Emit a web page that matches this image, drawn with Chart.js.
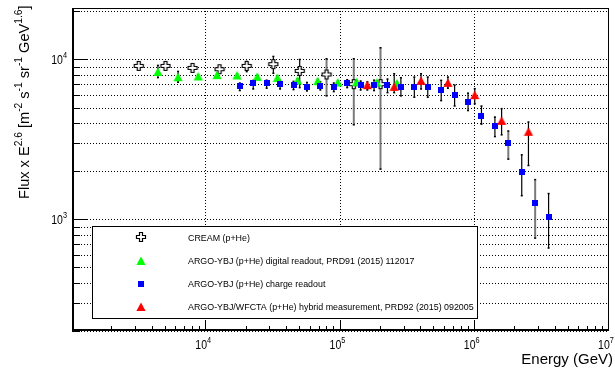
<!DOCTYPE html>
<html><head><meta charset="utf-8">
<script src="https://cdn.jsdelivr.net/npm/chart.js@4/dist/chart.umd.min.js"></script>
<style>html,body{margin:0;padding:0;background:#fff}#wrap{width:615px;height:372px;position:relative}</style>
</head><body><div id="wrap"><canvas id="c"></canvas></div>
<script>
// ---------- data ----------
const creamE    = [3140, 4970, 7900, 12560, 20000, 31620, 49660, 78700, 125600, 198600];
const creamFlux = [9120, 9120, 8860, 8696, 9120, 9346, 8487, 8060, 7009, 7009];
const creamLow  = [8850, 8850, 8600, 8450, 8365, 8176, 6645, 5900, 3890, 2054];
const creamHigh = [9400, 9400, 9120, 8950, 9759, 10486, 10043, 10145, 10145, 11885];

const greenE    = [4365, 6166, 8710, 12020, 16980, 23990, 33880, 47860, 67610, 95500, 131800, 186200, 263000];
const greenFlux = [8365, 7748, 7830, 7980, 7943, 7786, 7674, 7390, 7316, 7178, 7211, 7178, 7079];
const greenLow  = [7674, 7178, 7600, 7750, 7720, 7560, 7450, 7180, 7100, 6970, 7000, 6970, 6870];
const greenHigh = [9213, 8450, 8060, 8210, 8170, 8010, 7900, 7600, 7530, 7390, 7420, 7390, 7290];

const blueE    = [17780, 22390, 28180, 35480, 44670, 56230, 70800, 89130, 112200, 141300, 177800, 223900,
                  281800, 354800, 446700, 562300, 707900, 891300, 1122000, 1413000, 1778000, 2239000, 2818000, 3548000];
const blueFlux = [6839, 7112, 7145, 7039, 6909, 6776, 6839, 6714, 7079, 6879, 6879, 6879,
                  6745, 6776, 6683, 6427, 5957, 5410, 4442, 3846, 2997, 1990, 1265, 1038];
const blueLow  = [6368, 6520, 6590, 6520, 6457, 6339, 6427, 6273, 6645, 6427, 6368, 6180,
                  5900, 5788, 5788, 5510, 5105, 4775, 3926, 3281, 2371, 1400, 760, 659];
const blueHigh = [7145, 7430, 7450, 7430, 7320, 7211, 7286, 7145, 7499, 7350, 7450, 7568,
                  7718, 7786, 7786, 7430, 6937, 6180, 5129, 4375, 3580, 2541, 1778, 1454];

const redE    = [158500, 251200, 398100, 631000, 1000000, 1585000, 2512000];
const redFlux = [6909, 6745, 7350, 7145, 5980, 4132, 3528];
const redLow  = [6427, 6180, 6520, 6590, 5260, 3365, 2163];
const redHigh = [7270, 8176, 8176, 7786, 6590, 4943, 4074];

const seriesLabels = [
  'CREAM (p+He)',
  'ARGO-YBJ (p+He) digital readout, PRD91 (2015) 112017',
  'ARGO-YBJ (p+He) charge readout',
  'ARGO-YBJ/WFCTA (p+He) hybrid measurement, PRD92 (2015) 092005'
];
const xTickValues = [1e4, 1e5, 1e6, 1e7];
const xTickExp    = ['4', '5', '6', '7'];
const yTickValues = [1e3, 1e4];
const yTickExp    = ['3', '4'];
const xTitle = 'Energy (GeV)';
const yTitle = [['Flux x E'], ['2.6', 1], [' [m'], ['-2', 1], [' s'], ['-1', 1], [' sr'], ['-1', 1], [' GeV'], ['1.6', 1], [']']];

// ---------- styles ----------
const FONT = '"Liberation Sans", Arial, Helvetica, sans-serif';
const grayBars = { 0: [7, 8, 9], 2: [20, 22] };

function makeCross() {
  const c = document.createElement('canvas'); c.width = 12; c.height = 12;
  const g = c.getContext('2d'); const cx = 6, cy = 6, h = 4.5, w = 1.5;
  g.beginPath();
  g.moveTo(cx - w, cy - h); g.lineTo(cx + w, cy - h); g.lineTo(cx + w, cy - w); g.lineTo(cx + h, cy - w);
  g.lineTo(cx + h, cy + w); g.lineTo(cx + w, cy + w); g.lineTo(cx + w, cy + h); g.lineTo(cx - w, cy + h);
  g.lineTo(cx - w, cy + w); g.lineTo(cx - h, cy + w); g.lineTo(cx - h, cy - w); g.lineTo(cx - w, cy - w);
  g.closePath(); g.fillStyle = '#fff'; g.fill(); g.strokeStyle = '#000'; g.lineWidth = 1.2; g.stroke();
  return c;
}
function makeTri(color) {
  const c = document.createElement('canvas'); c.width = 10; c.height = 10;
  const g = c.getContext('2d');
  g.beginPath(); g.moveTo(5, 0.5); g.lineTo(9.6, 9); g.lineTo(0.4, 9); g.closePath();
  g.fillStyle = color; g.fill();
  return c;
}
function makeSquare(color) {
  const c = document.createElement('canvas'); c.width = 6; c.height = 6;
  const g = c.getContext('2d'); g.fillStyle = color; g.fillRect(0, 0, 6, 6);
  return c;
}
const markers = [makeCross(), makeTri('#00ff00'), makeSquare('#0000ff'), makeTri('#ff0000')];
const errs = [[creamLow, creamHigh], [greenLow, greenHigh], [blueLow, blueHigh], [redLow, redHigh]];

function pts(xs, ys) { return xs.map((x, i) => ({ x: x, y: ys[i] })); }

function drawRich(ctx, segs, x, y, size, align, vscale) {
  const supSize = size * 0.7, raise = size * 0.45;
  let w = 0;
  const widths = segs.map(s => { ctx.font = (s[1] ? supSize : size) + 'px ' + FONT; const m = ctx.measureText(s[0]).width; w += m; return m; });
  ctx.save(); ctx.translate(x, y); ctx.scale(1, vscale || 1);
  let cx = align === 'right' ? -w : (align === 'center' ? -w / 2 : 0);
  ctx.textBaseline = 'alphabetic'; ctx.textAlign = 'left'; ctx.fillStyle = '#000';
  segs.forEach((s, i) => { ctx.font = (s[1] ? supSize : size) + 'px ' + FONT; ctx.fillText(s[0], cx, s[1] ? -raise : 0); cx += widths[i]; });
  ctx.restore();
  return w;
}

const rootPlugin = {
  id: 'rootStyle',
  beforeDatasetsDraw(chart) {
    const ctx = chart.ctx, a = chart.chartArea, xs = chart.scales.x, ys = chart.scales.y;
    ctx.save();
    // dotted grid
    ctx.strokeStyle = '#000'; ctx.lineWidth = 1; ctx.setLineDash([1, 2]);
    for (let d = 100; d <= 10000; d *= 10) for (let k = 1; k <= 9; k++) {
      const v = d * k; if (v < ys.min || v > ys.max) continue;
      const y = Math.round(ys.getPixelForValue(v)) + 0.5;
      ctx.beginPath(); ctx.moveTo(a.left, y); ctx.lineTo(a.right, y); ctx.stroke();
    }
    [1e4, 1e5, 1e6, 1e7].forEach(v => {
      const x = Math.round(xs.getPixelForValue(v)) - 0.5;
      ctx.beginPath(); ctx.moveTo(x, a.top); ctx.lineTo(x, a.bottom); ctx.stroke();
    });
    ctx.setLineDash([]);
    // error bars
    chart.data.datasets.forEach((ds, di) => {
      const [lo, hi] = errs[di];
      ds.data.forEach((p, i) => {
        const gray = (grayBars[di] || []).indexOf(i) >= 0;
        const x = xs.getPixelForValue(p.x);
        const y1 = ys.getPixelForValue(hi[i]), y2 = ys.getPixelForValue(lo[i]);
        ctx.strokeStyle = gray ? '#7a7a7a' : '#000'; ctx.lineWidth = gray ? 2 : 1.2;
        ctx.beginPath(); ctx.moveTo(x, y1); ctx.lineTo(x, y2); ctx.stroke();
        ctx.fillStyle = '#000';
        ctx.fillRect(x - 1, y1 - 0.5, 2, 1.5); ctx.fillRect(x - 1, y2 - 1, 2, 1.5);
      });
    });
    ctx.restore();
  },
  afterDatasetsDraw(chart) {
    const ctx = chart.ctx, a = chart.chartArea, xs = chart.scales.x, ys = chart.scales.y;
    ctx.save();
    ctx.strokeStyle = '#000'; ctx.lineWidth = 1;
    // y ticks
    for (let d = 100; d <= 10000; d *= 10) for (let k = 1; k <= 9; k++) {
      const v = d * k; if (v < ys.min || v > ys.max) continue;
      const y = Math.round(ys.getPixelForValue(v)) + 0.5;
      const len = k === 1 ? 16 : 8;
      ctx.beginPath(); ctx.moveTo(a.left, y); ctx.lineTo(a.left + len, y); ctx.stroke();
    }
    // x ticks
    for (let d = 1000; d <= 1e6; d *= 10) for (let k = 1; k <= 9; k++) {
      const v = d * k; if (v <= xs.min || v >= xs.max) continue;
      const x = Math.round(xs.getPixelForValue(v)) - 0.5;
      const len = k === 1 ? 11 : 5;
      ctx.beginPath(); ctx.moveTo(x, a.bottom); ctx.lineTo(x, a.bottom - len); ctx.stroke();
    }
    // frame
    ctx.strokeRect(a.left + 0.5, a.top + 0.5, a.right - a.left - 1, a.bottom - a.top - 1);
    ctx.lineWidth = 2;
    ctx.beginPath(); ctx.moveTo(a.left + 1, a.top); ctx.lineTo(a.left + 1, a.bottom - 1); ctx.lineTo(a.right, a.bottom - 1); ctx.stroke();

    // tick labels
    xTickValues.forEach((v, i) => {
      const x = xs.getPixelForValue(v);
      ctx.font = '10.5px ' + FONT;
      const w10 = ctx.measureText('10').width;
      drawRich(ctx, [['10'], [xTickExp[i], 1]], x + 0.8 - w10, 348.5, 10.5, 'left', 1.15);
    });
    yTickValues.forEach((v, i) => {
      const y = ys.getPixelForValue(v);
      drawRich(ctx, [['10'], [yTickExp[i], 1]], 67, y + 4.3, 10.5, 'right', 1.15);
    });
    // axis titles
    drawRich(ctx, [[xTitle]], 613, 363.5, 15, 'right', 1);
    ctx.save(); ctx.translate(28.5, 5.5); ctx.rotate(-Math.PI / 2);
    drawRich(ctx, yTitle, 0, 0, 14.6, 'right', 1);
    ctx.restore();

    // legend box
    const lx = 92, ly = 226, lw = 385, lh = 92;
    ctx.fillStyle = '#fff'; ctx.fillRect(lx, ly, lw, lh);
    ctx.strokeStyle = '#000'; ctx.lineWidth = 1; ctx.strokeRect(lx + 0.5, ly + 0.5, lw, lh);
    const rows = [237, 260.5, 283.5, 306.5];
    rows.forEach((ry, i) => {
      const m = markers[i];
      ctx.drawImage(m, Math.round(140.5 - m.width / 2), Math.round(ry - m.height / 2));
      drawRich(ctx, [[seriesLabels[i]]], 188, ry + 3.6, 8.9, 'left', 1.12);
    });
    ctx.restore();
  }
};

new Chart(document.getElementById('c'), {
  type: 'scatter',
  data: {
    datasets: [
      { label: seriesLabels[0], data: pts(creamE, creamFlux), pointStyle: markers[0], pointRadius: 5, order: 4 },
      { label: seriesLabels[1], data: pts(greenE, greenFlux), pointStyle: markers[1], pointRadius: 5, order: 3 },
      { label: seriesLabels[2], data: pts(blueE, blueFlux), pointStyle: markers[2], pointRadius: 4, order: 2 },
      { label: seriesLabels[3], data: pts(redE, redFlux), pointStyle: markers[3], pointRadius: 5, order: 1 }
    ]
  },
  options: {
    responsive: true, maintainAspectRatio: false, animation: false,
    layout: { padding: { left: 72, right: 6, top: 8, bottom: 41 } },
    plugins: { legend: { display: false }, tooltip: { enabled: false } },
    scales: {
      x: { type: 'logarithmic', min: 1000, max: 1e7, display: false },
      y: { type: 'logarithmic', min: 200, max: 21000, display: false }
    }
  },
  plugins: [rootPlugin]
});
</script></body></html>
